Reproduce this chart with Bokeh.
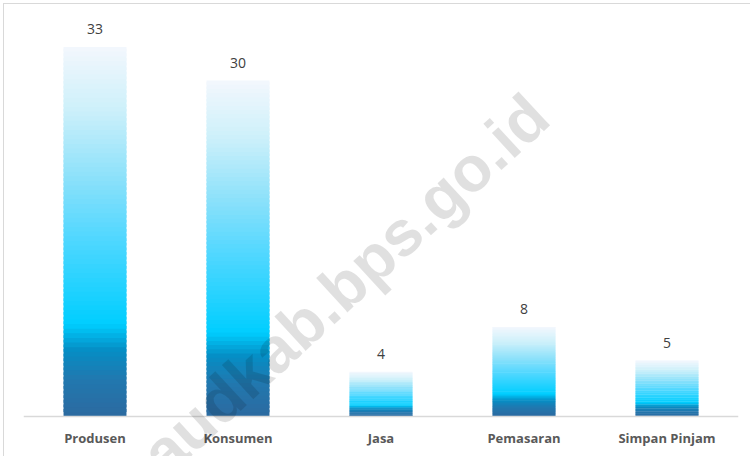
from bokeh.plotting import figure
from bokeh.models import ColumnDataSource, Label, Range1d
from bokeh.embed import file_html
from bokeh.resources import INLINE
from bokeh.core.properties import value

categories = ["Produsen", "Konsumen", "Jasa", "Pemasaran", "Simpan Pinjam"]
counts = [33, 30, 4, 8, 5]

# gradient stops (fraction of bar height, rgb)
grad_pos = [0.0, 0.10, 0.18, 0.25, 0.48, 0.66, 0.83, 1.0]
grad_rgb = [(44, 106, 160), (33, 120, 175), (5, 142, 197), (0, 206, 255),
            (80, 215, 255), (145, 226, 250), (205, 240, 250), (243, 247, 253)]

def grad_color(f):
    for i in range(len(grad_pos) - 1):
        if grad_pos[i] <= f <= grad_pos[i + 1]:
            t = (f - grad_pos[i]) / (grad_pos[i + 1] - grad_pos[i])
            c = [round(a + (b - a) * t) for a, b in zip(grad_rgb[i], grad_rgb[i + 1])]
            return "#%02x%02x%02x" % tuple(c)
    return "#%02x%02x%02x" % grad_rgb[-1]

N = 80
xs, bots, tops, cols = [], [], [], []
for cat, v in zip(categories, counts):
    for k in range(N):
        xs.append(cat)
        bots.append(v * k / N)
        tops.append(min(v, v * (k + 1.6) / N))
        cols.append(grad_color((k + 0.5) / N))
seg = ColumnDataSource(dict(x=xs, bottom=bots, top=tops, color=cols))
lab = ColumnDataSource(dict(x=categories, y=counts, t=[str(c) for c in counts]))

W, H = 747, 453
top_px, base_px = 9, 412
ppu = 11.2
y_top = (base_px - top_px) / ppu
y_bot = -(H - base_px) / ppu

p = figure(x_range=categories, y_range=Range1d(y_bot, y_top), width=W, height=H,
           output_backend="svg", toolbar_location=None,
           min_border_left=19, min_border_right=13, min_border_top=top_px, min_border_bottom=0,
           styles={"margin-left": "3px", "margin-top": "3px",
                   "border-top": "1px solid #d9d9d9", "border-left": "1px solid #d9d9d9"})
p.outline_line_color = None
p.grid.grid_line_color = None
p.yaxis.visible = False
p.x_range.range_padding = 0

p.vbar(x="x", bottom="bottom", top="top", width=0.44, fill_color="color",
       line_color=None, source=seg)
p.text(x="x", y="y", text="t", source=lab, text_align="center", text_baseline="bottom",
       y_offset=-13, text_font=value("Open Sans"), text_font_size="14px", text_color="#404040")

ax = p.xaxis[0]
ax.fixed_location = 0
ax.axis_line_color = "#d9d9d9"
ax.axis_line_width = 1.5
ax.major_tick_line_color = None
ax.minor_tick_line_color = None
ax.major_label_standoff = 6
ax.major_label_text_font = "Open Sans"
ax.major_label_text_font_style = "bold"
ax.major_label_text_font_size = "13px"
ax.major_label_text_color = "#595959"

wm = Label(x=3.60, y=27.7, text="audkab.bps.go.id", angle=42.7, angle_units="deg",
           text_align="right", text_baseline="middle", text_font="Liberation Sans",
           text_font_style="bold", text_font_size="64px", text_color="black", text_alpha=0.12)
p.add_layout(wm)

open("out.html", "w").write(file_html(p, INLINE))
